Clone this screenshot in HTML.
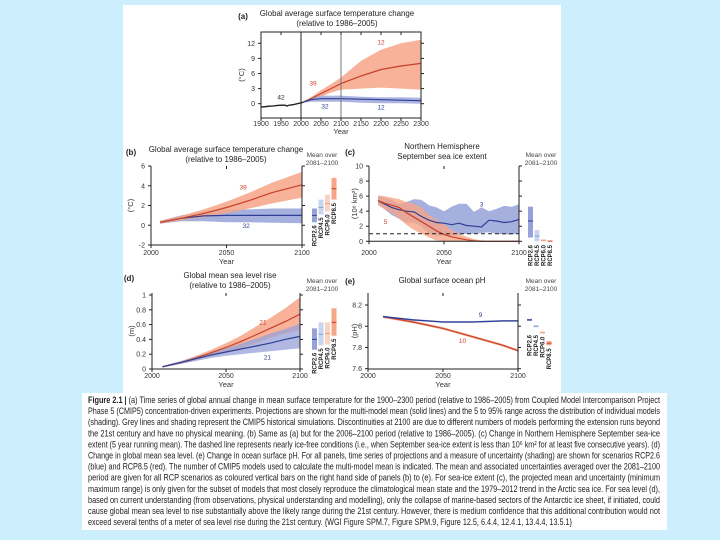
<!DOCTYPE html>
<html><head><meta charset="utf-8"><style>
body{margin:0;background:#cdeefc;}
svg{display:block;font-family:"Liberation Sans",sans-serif;}
</style></head><body>
<svg id="fig" width="720" height="540" viewBox="0 0 720 540">
<rect x="0" y="0" width="720" height="540" fill="#cdeefc"/>
<rect x="123" y="5" width="438" height="390" fill="#fff"/>
<rect x="82" y="393" width="585" height="137" fill="#fff"/>
<g id="caption" font-size="9.4" fill="#222"></g>
<g id="charts"></g>
</svg>
<script>
// ---------- DATA ----------
// Panel (a)
const aHistYears=[1900,1910,1920,1930,1940,1950,1960,1965,1970,1980,1990,2000,2005];
const aHistVals=[-0.65,-0.6,-0.5,-0.45,-0.35,-0.3,-0.3,-0.45,-0.3,-0.2,0,0.15,0.3];
const aYears=[2005,2025,2050,2075,2100,2150,2200,2250,2300];
const aRedMean=[0.3,1.0,2.0,3.0,4.0,5.5,6.8,7.5,8.0];
const aRedLow=[0.2,0.7,1.4,2.2,2.8,3.0,3.2,3.0,2.8];
const aRedHigh=[0.4,1.3,2.7,3.9,5.2,8.5,10.7,12.0,12.7];
const aBlueMean=[0.3,0.8,1.0,1.0,1.0,0.9,0.8,0.7,0.6];
const aBlueLow=[0.2,0.4,0.4,0.4,0.4,0.2,0.1,0.1,0.0];
const aBlueHigh=[0.4,1.2,1.6,1.6,1.6,1.4,1.3,1.3,1.2];
const aYTicks=[0,3,6,9,12];
const aXTicks=[1900,1950,2000,2050,2100,2150,2200,2250,2300];
// Panel (b)
const bYears=[2006,2020,2035,2050,2065,2080,2100];
const bRedMean=[0.3,0.7,1.2,1.8,2.5,3.3,4.1];
const bRedLow=[0.15,0.5,0.8,1.2,1.7,2.2,2.8];
const bRedHigh=[0.45,0.95,1.6,2.4,3.3,4.3,5.4];
const bBlueMean=[0.3,0.7,0.95,1.0,1.0,1.0,1.0];
const bBlueLow=[0.15,0.4,0.4,0.3,0.3,0.25,0.2];
const bBlueHigh=[0.45,1.0,1.4,1.6,1.6,1.7,1.7];
const bYTicks=[-2,0,2,4,6];
const barNames=["RCP2.6","RCP4.5","RCP6.0","RCP8.5"];
const bBarLow=[0.3,1.1,1.4,2.6];
const bBarHigh=[1.7,2.6,3.1,4.8];
const bBarMean=[1.0,1.8,2.2,3.7];
// Panel (c)
const cYears=[2006,2010,2015,2020,2025,2030,2035,2040,2045,2050,2055,2060,2065,2070,2075,2080,2085,2090,2095,2100];
const cBlueMean=[5.4,5.0,4.5,4.2,4.0,3.9,3.3,2.8,2.5,2.4,2.2,2.4,2.1,2.0,1.9,2.8,2.7,2.5,2.6,2.9];
const cBlueLow=[5.0,4.3,3.5,3.0,2.5,2.5,2.0,1.0,0.8,0.7,0.7,0.9,1.0,1.0,1.1,1.2,1.0,0.9,0.9,1.0];
const cBlueHigh=[6.0,5.8,5.5,5.0,5.2,5.6,5.5,4.8,4.5,4.0,4.6,5.0,5.0,3.9,4.5,4.0,4.3,4.7,4.6,4.9];
const cRedMean=[5.4,5.1,4.8,4.5,3.8,3.2,2.6,2.0,1.4,0.9,0.6,0.4,0.2,0.05,0,0,0,0,0,0];
const cRedLow=[4.8,4.3,3.8,3.0,2.2,1.5,1.0,0.5,0.1,0,0,0,0,0,0,0,0,0,0,0];
const cRedHigh=[6.1,6.0,5.8,5.6,5.2,5.0,4.5,3.5,2.8,2.3,1.5,1.0,0.6,0.3,0.1,0,0,0,0,0];
const cYTicks=[0,2,4,6,8,10];
const cIceFree=1.0;
const cBarLow=[0.5,0,0,0];
const cBarHigh=[4.6,1.5,0.3,0.1];
const cBarMean=[2.7,0.7,0.1,0.02];
// Panel (d)
const dYears=[2007,2020,2030,2040,2050,2060,2070,2080,2090,2100];
const dRedMean=[0.03,0.09,0.15,0.22,0.29,0.37,0.46,0.55,0.64,0.74];
const dRedLow=[0.02,0.07,0.12,0.17,0.22,0.28,0.35,0.42,0.48,0.53];
const dRedHigh=[0.04,0.11,0.18,0.26,0.35,0.45,0.57,0.69,0.82,0.97];
const dBlueMean=[0.03,0.09,0.14,0.19,0.23,0.27,0.31,0.35,0.40,0.44];
const dBlueLow=[0.02,0.07,0.11,0.15,0.18,0.20,0.22,0.24,0.26,0.28];
const dBlueHigh=[0.04,0.11,0.17,0.22,0.28,0.34,0.41,0.48,0.54,0.61];
const dYTicks=[0,0.2,0.4,0.6,0.8,1];
const dBarLow=[0.26,0.32,0.33,0.45];
const dBarHigh=[0.55,0.63,0.63,0.82];
const dBarMean=[0.40,0.47,0.48,0.63];
// Panel (e)
const eYears=[2010,2030,2050,2070,2090,2100];
const eBlueMean=[8.09,8.06,8.04,8.04,8.05,8.05];
const eRedMean=[8.09,8.04,7.98,7.90,7.82,7.77];
const eYTicks=[7.6,7.8,8,8.2];
const eYTickLabels=["7.6","7.8","8","8.2"];
const eBarLow=[8.05,7.99,7.93,7.82];
const eBarHigh=[8.07,8.01,7.95,7.86];
const eBarMean=[8.06,8.0,7.94,7.84];
const xTicks21=[2000,2050,2100];

const captionLines=[
["Figure 2.1 | ","(a) Time series of global annual change in mean surface temperature for the 1900–2300 period (relative to 1986–2005) from Coupled Model Intercomparison Project"],
["","Phase 5 (CMIP5) concentration-driven experiments. Projections are shown for the multi-model mean (solid lines) and the 5 to 95% range across the distribution of individual models"],
["","(shading). Grey lines and shading represent the CMIP5 historical simulations. Discontinuities at 2100 are due to different numbers of models performing the extension runs beyond"],
["","the 21st century and have no physical meaning. (b) Same as (a) but for the 2006–2100 period (relative to 1986–2005). (c) Change in Northern Hemisphere September sea-ice"],
["","extent (5 year running mean). The dashed line represents nearly ice-free conditions (i.e., when September sea-ice extent is less than 10⁶ km² for at least five consecutive years). (d)"],
["","Change in global mean sea level. (e) Change in ocean surface pH. For all panels, time series of projections and a measure of uncertainty (shading) are shown for scenarios RCP2.6"],
["","(blue) and RCP8.5 (red). The number of CMIP5 models used to calculate the multi-model mean is indicated. The mean and associated uncertainties averaged over the 2081–2100"],
["","period are given for all RCP scenarios as coloured vertical bars on the right hand side of panels (b) to (e). For sea-ice extent (c), the projected mean and uncertainty (minimum"],
["","maximum range) is only given for the subset of models that most closely reproduce the climatological mean state and the 1979–2012 trend in the Arctic sea ice. For sea level (d),"],
["","based on current understanding (from observations, physical understanding and modelling), only the collapse of marine-based sectors of the Antarctic ice sheet, if initiated, could"],
["","cause global mean sea level to rise substantially above the likely range during the 21st century. However, there is medium confidence that this additional contribution would not"],
["","exceed several tenths of a meter of sea level rise during the 21st century. {WGI Figure SPM.7, Figure SPM.9, Figure 12.5, 6.4.4, 12.4.1, 13.4.4, 13.5.1}"]
];

// ---------- DRAWING ----------
const NS="http://www.w3.org/2000/svg";
const root=document.getElementById('charts');
function el(tag,attrs,parent,text){const e=document.createElementNS(NS,tag);for(const k in attrs)e.setAttribute(k,attrs[k]);if(text!==undefined)e.textContent=text;(parent||root).appendChild(e);return e;}
function scale(d0,d1,r0,r1){return v=>r0+(v-d0)/(d1-d0)*(r1-r0);}
const RED="#c8402a",REDB="#f6a587",BLUE="#2f3f94",BLUEB="#97a2d8",LBLUE="#c9d4ef",LORANGE="#f9d3c3";

function band(g,years,lo,hi,sx,sy,fill,op,name){
  let d="M"+years.map((y,i)=>sx(y).toFixed(1)+","+sy(hi[i]).toFixed(1)).join("L");
  for(let i=years.length-1;i>=0;i--)d+="L"+sx(years[i]).toFixed(1)+","+sy(lo[i]).toFixed(1);
  const p=el('path',{d:d+"Z",fill:fill,opacity:op},g);
  
  
}
function line(g,years,vals,sx,sy,stroke,w,name){
  const p=el('polyline',{points:years.map((y,i)=>sx(y).toFixed(1)+","+sy(vals[i]).toFixed(1)).join(" "),fill:"none",stroke:stroke,"stroke-width":w},g);
  
  
}
function label(g,x,y,t,fill,size,name,anchor){
  const e=el('text',{x:x,y:y,fill:fill,"font-size":size,"text-anchor":anchor||"middle"},g,t);
  
  
  return e;
}
function axes(g,L,R,T,B,sy,yTicks,yLabels,sx,xTicks,xLabelY,yearY,ylab,ylabX,topLine){
  const f=el('path',{d:topLine?`M${L},${T}V${B}H${R}V${T}Z`:`M${L},${T}V${B}H${R}V${T}`,fill:"none",stroke:"#222","stroke-width":1},g);
  
  
  yTicks.forEach((v,i)=>{
    const y=sy(v);
    el('line',{x1:L-3,x2:L,y1:y,y2:y,stroke:"#222"},g);
    el('line',{x1:R,x2:R+3,y1:y,y2:y,stroke:"#222"},g);
    label(g,L-6,y+2.5,yLabels?yLabels[i]:String(v),"#333",7,'y-tick-label',"end");
  });
  xTicks.forEach(v=>{
    const x=sx(v);
    el('line',{x1:x,x2:x,y1:B,y2:B+3,stroke:"#222"},g);
    el('line',{x1:x,x2:x,y1:T,y2:T+3,stroke:"#222"},g);
    label(g,x,xLabelY,String(v),"#333",7,'x-tick-label');
  });
  label(g,(L+R)/2,yearY,"Year","#333",7.5,'x-axis-title');
  const yl=label(g,ylabX,(T+B)/2,ylab,"#333",7.5,'y-axis-title');
  yl.setAttribute('transform',`rotate(-90 ${ylabX} ${(T+B)/2})`);
}
function bars(g,x0,sy,low,high,mean,labelTop){
  const fills=[BLUEB,LBLUE,LORANGE,REDB];
  const lines=[BLUE,"#8aa0d8","#f0a080",RED];
  barNames.forEach((n,i)=>{
    const x=x0+i*6.5;
    const r=el('rect',{x:x,y:sy(high[i]),width:5,height:Math.max(1,sy(low[i])-sy(high[i])),fill:fills[i]},g);
    
    
    el('line',{x1:x,x2:x+5,y1:sy(mean[i]),y2:sy(mean[i]),stroke:lines[i],"stroke-width":1},g);
    const ly=Math.max(sy(low[i])+3,labelTop);
    const t=label(g,x+4.5,ly,n,"#222",6,'bar-label',"end");
    t.setAttribute('font-weight','bold');
    t.setAttribute('transform',`rotate(-90 ${x+4.5} ${ly})`);
  });
}
function meanOver(g,x,y){label(g,x,y,"Mean over","#444",6.5,'mean-over-label');label(g,x,y+8,"2081–2100","#444",6.5,'mean-over-period');}
function title(g,x,y,lines,tag,tx,ty){
  lines.forEach((t,i)=>{const e=label(g,x,y+i*10,t,"#222",7.9,'panel-title');});
  const e=label(g,tx,ty,tag,"#222",8,'panel-tag');e.setAttribute('font-weight','bold');
}

// Panel (a)
{
  const g=el('g',{});
  const L=261,R=421,T=32,B=118;
  const sx=scale(1900,2300,L,R), sy=scale(0,12,103.7,43.3);
  band(g,aYears,aRedLow,aRedHigh,sx,sy,REDB,0.85,'rcp85-range-a');
  band(g,aYears,aBlueLow,aBlueHigh,sx,sy,BLUEB,0.8,'rcp26-range-a');
  band(g,aHistYears,aHistVals.map(v=>v-0.15),aHistVals.map(v=>v+0.15),sx,sy,"#999",0.7,'historical-range');
  line(g,aHistYears,aHistVals,sx,sy,"#222",1.3,'historical-line');
  line(g,aYears,aRedMean,sx,sy,RED,1.2,'rcp85-mean-a');
  line(g,aYears,aBlueMean,sx,sy,BLUE,1.2,'rcp26-mean-a');
  el('line',{x1:sx(2000),x2:sx(2000),y1:T,y2:B,stroke:"#222"},g);
  el('line',{x1:sx(2100),x2:sx(2100),y1:T,y2:B,stroke:"#777"},g);
  axes(g,L,R,T,B,sy,aYTicks,null,sx,aXTicks,126,134,"(°C)",244,true);
  label(g,sx(1950),sy(0.8),"42","#222",6.5,'model-count');
  label(g,sx(2030),sy(3.6),"39",RED,6.5,'model-count');
  label(g,sx(2060),sy(-1.0),"32",BLUE,6.5,'model-count');
  label(g,sx(2200),sy(11.8),"12",RED,6.5,'model-count');
  label(g,sx(2200),sy(-1.2),"12",BLUE,6.5,'model-count');
  title(g,337,16,["Global average surface temperature change","(relative to 1986–2005)"],"(a)",243,19);
}
// Panel (b)
{
  const g=el('g',{});
  const L=151,R=302,T=166,B=245;
  const sx=scale(2000,2100,L,R), sy=scale(-2,6,B,T);
  band(g,bYears,bBlueLow,bBlueHigh,sx,sy,BLUEB,0.85,'rcp26-range-b');
  band(g,bYears,bRedLow,bRedHigh,sx,sy,REDB,0.85,'rcp85-range-b');
  line(g,bYears,bBlueMean,sx,sy,BLUE,1.2,'rcp26-mean-b');
  line(g,bYears,bRedMean,sx,sy,RED,1.2,'rcp85-mean-b');
  axes(g,L,R,T,B,sy,bYTicks,null,sx,xTicks21,255,264,"(°C)",133);
  label(g,sx(2061),sy(3.6),"39",RED,6.5,'model-count');
  label(g,sx(2063),sy(-0.3),"32",BLUE,6.5,'model-count');
  bars(g,312,sy,bBarLow,bBarHigh,bBarMean,203);
  meanOver(g,322,157);
  title(g,226,152,["Global average surface temperature change","(relative to 1986–2005)"],"(b)",131,155);
}
// Panel (c)
{
  const g=el('g',{});
  const L=369,R=519,T=166,B=241.3;
  const sx=scale(2000,2100,L,R), sy=scale(0,10,B,T);
  band(g,cYears,cBlueLow,cBlueHigh,sx,sy,BLUEB,0.85,'rcp26-range-c');
  band(g,cYears,cRedLow,cRedHigh,sx,sy,REDB,0.8,'rcp85-range-c');
  line(g,cYears,cBlueMean,sx,sy,BLUE,1.2,'rcp26-mean-c');
  line(g,cYears,cRedMean,sx,sy,RED,1.2,'rcp85-mean-c');
  const dl=el('line',{x1:L,x2:R,y1:sy(cIceFree),y2:sy(cIceFree),stroke:"#222","stroke-dasharray":"4,3"},g);
  
  
  axes(g,L,R,T,B,sy,cYTicks,null,sx,xTicks21,255,264,"(10⁶ km²)",357);
  label(g,sx(2011),sy(2.3),"5",RED,6.5,'model-count');
  label(g,sx(2075),sy(4.6),"3",BLUE,6.5,'model-count');
  bars(g,528,sy,cBarLow,cBarHigh,cBarMean,245);
  meanOver(g,541,157);
  title(g,442,149,["Northern Hemisphere","September sea ice extent"],"(c)",350,155);
}
// Panel (d)
{
  const g=el('g',{});
  const L=152,R=300,T=293,B=369;
  const sx=scale(2000,2100,L,R), sy=scale(0,1,369,295);
  band(g,dYears,dRedLow,dRedHigh,sx,sy,REDB,0.85,'rcp85-range-d');
  band(g,dYears,dBlueLow,dBlueHigh,sx,sy,BLUEB,0.75,'rcp26-range-d');
  line(g,dYears,dRedMean,sx,sy,RED,1.2,'rcp85-mean-d');
  line(g,dYears,dBlueMean,sx,sy,BLUE,1.2,'rcp26-mean-d');
  axes(g,L,R,T,B,sy,dYTicks,null,sx,xTicks21,378,387,"(m)",134);
  label(g,sx(2075),sy(0.6),"21",RED,6.5,'model-count');
  label(g,sx(2078),sy(0.13),"21",BLUE,6.5,'model-count');
  bars(g,312,sy,dBarLow,dBarHigh,dBarMean,335);
  meanOver(g,322,283);
  title(g,230,278,["Global mean sea level rise","(relative to 1986–2005)"],"(d)",129,281);
}
// Panel (e)
{
  const g=el('g',{});
  const L=368,R=518,T=293,B=369;
  const sx=scale(2000,2100,L,R), sy=scale(7.6,8.2,368.7,305);
  band(g,eYears,eRedMean.map(v=>v-0.012),eRedMean.map(v=>v+0.012),sx,sy,REDB,0.9,'rcp85-range-e');
  band(g,eYears,eBlueMean.map(v=>v-0.008),eBlueMean.map(v=>v+0.008),sx,sy,BLUEB,0.9,'rcp26-range-e');
  line(g,eYears,eRedMean,sx,sy,RED,1.2,'rcp85-mean-e');
  line(g,eYears,eBlueMean,sx,sy,BLUE,1.3,'rcp26-mean-e');
  axes(g,L,R,T,B,sy,eYTicks,eYTickLabels,sx,xTicks21,378,387,"(pH)",357);
  label(g,sx(2075),sy(8.085),"9",BLUE,6.5,'model-count');
  label(g,sx(2063),sy(7.84),"10",RED,6.5,'model-count');
  bars(g,527,sy,eBarLow,eBarHigh,eBarMean,335);
  meanOver(g,541,283);
  title(g,442,283,["Global surface ocean pH"],"(e)",350,284);
}
// Caption
{
  const cap=document.getElementById('caption');
  captionLines.forEach((ln,i)=>{
    const y=403+i*11.1;
    const t=el('text',{x:88,y:y,textLength:i===11?484:572,lengthAdjust:"spacingAndGlyphs"},cap);
    
    
    if(ln[0]){const b=el('tspan',{"font-weight":"bold"},t,ln[0]);}
    el('tspan',{},t,ln[1]);
  });
}
</script>
</body></html>
